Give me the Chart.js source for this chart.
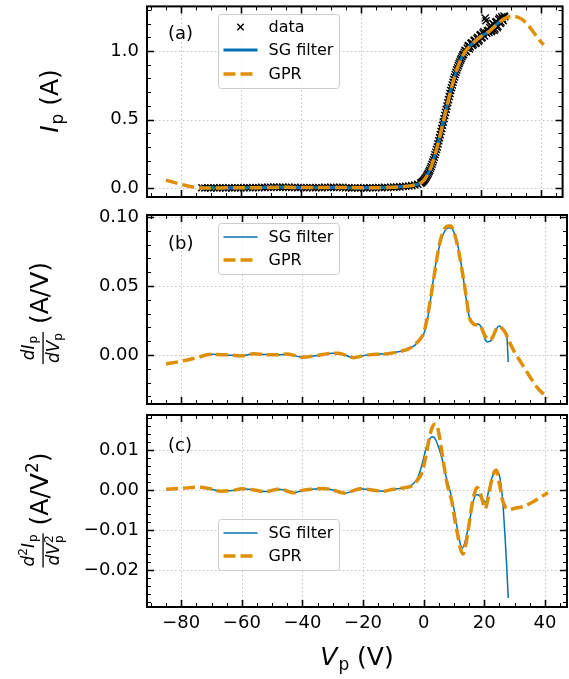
<!DOCTYPE html>
<html><head><meta charset="utf-8">
<script src="https://cdn.jsdelivr.net/npm/chart.js@4/dist/chart.umd.min.js"></script>
<style>
html,body{margin:0;padding:0;background:#fff;}
#wrap{position:relative;width:569px;height:679px;overflow:hidden;background:#fff}
canvas{position:absolute;left:0;top:0}
</style></head><body>
<div id="wrap">
<canvas id="ca" width="569" height="679"></canvas>
<canvas id="cb" width="569" height="679"></canvas>
<canvas id="cc" width="569" height="679"></canvas>
</div>
<script>
// ---------- tick labels ----------
const xTicks = [-80, -60, -40, -20, 0, 20, 40];
const yTicksA = [0, 0.5, 1.0];
const yTicksB = [0, 0.05, 0.10];
const yTicksC = [-0.02, -0.01, 0, 0.01];

// ---------- panel (a): probe current ----------
const measV = [-73,-72,-71,-70,-69,-68,-67,-66,-65,-64,
  -63,-62,-61,-60,-59,-58,-57,-56,-55,-54,
  -53,-52,-51,-50,-49,-48,-47,-46,-45,-44,
  -43,-42,-41,-40,-39,-38,-37,-36,-35,-34,
  -33,-32,-31,-30,-29,-28,-27,-26,-25,-24,
  -23,-22,-21,-20,-19,-18,-17,-16,-15,-14,
  -13,-12,-11,-10,-9,-8,-7,-6,-5,-4,
  -3,-2,-1,
  0,0.5,1,1.5,2,2.5,3,3.5,4,4.5,
  5,5.5,6,6.5,7,7.5,8,8.5,9,9.5,
  10,10.5,11,11.5,12,12.5,13,13.5,14,14.5,
  15,15.5,16,16.5,17,17.5,18,18.5,19,19.5,
  20,20.5,21,21.5,22,22.5,23,23.5,24,24.5,
  25,25.5,26,26.5,27,27.5,28];
const measI = [0.002,0.001,0.003,0.000,0.002,0.001,0.003,0.002,0.000,0.002,
  0.001,0.003,0.002,0.001,0.003,0.004,0.002,0.003,0.004,0.003,
  0.005,0.004,0.006,0.005,0.007,0.006,0.005,0.007,0.006,0.005,
  0.004,0.005,0.003,0.004,0.002,0.003,0.004,0.002,0.003,0.004,
  0.003,0.005,0.004,0.006,0.005,0.004,0.006,0.005,0.003,0.002,
  0.001,0.002,0.000,0.001,0.002,0.001,0.003,0.002,0.003,0.004,
  0.003,0.005,0.004,0.006,0.007,0.008,0.009,0.011,0.013,0.015,
  0.018,0.022,0.028,
  0.036,0.045,0.056,0.070,0.088,0.108,0.130,0.158,0.190,0.225,
  0.262,0.300,0.345,0.390,0.435,0.482,0.530,0.575,0.622,0.668,
  0.712,0.752,0.792,0.828,0.862,0.893,0.920,0.945,0.970,0.990,
  1.000,1.020,1.040,1.030,1.060,1.050,1.080,1.060,1.100,1.080,
  1.120,1.100,1.140,1.240,1.130,1.150,1.170,1.140,1.200,1.150,
  1.210,1.170,1.230,1.200,1.250,1.220,1.250];
// interleaved samples of the same sweep (between the points above)
const measV2 = [0.25,0.75,1.25,1.75,2.25,2.75,3.25,3.75,4.25,4.75,
  5.25,5.75,6.25,6.75,7.25,7.75,8.25,8.75,9.25,9.75,
  10.25,10.75,11.25,11.75,12.25,12.75,13.25,13.75,14.25,14.75,
  15.25,15.75,16.25,16.75,17.25,17.75,18.25,18.75,19.25,19.75,
  20.25,20.75,21.25,21.75,22.25,22.75,23.25,23.75,24.25,24.75,
  25.25,25.75,26.25,26.75,27.25,27.75];
const measI2 = [0.040,0.050,0.063,0.079,0.098,0.119,0.144,0.174,0.207,0.243,
  0.281,0.322,0.367,0.412,0.458,0.506,0.552,0.598,0.645,0.690,
  0.732,0.772,0.810,0.845,0.878,0.907,0.933,0.958,0.975,1.005,
  0.995,1.035,1.015,1.055,1.040,1.075,1.055,1.090,1.070,1.115,
  1.095,1.130,1.110,1.220,1.145,1.135,1.185,1.150,1.195,1.160,
  1.215,1.180,1.240,1.210,1.235,1.255];
const sgAV = [-73,-70,-67,-64,-61,-58,-55,-52,-49,-46,-43,-40,-37,-34,-31,-28,-25,-22,-19,-16,
  -13,-10,-8,-6,-4,-2,-1,0,1,2,3,4,5,6,7,8,9,10,11,12,13,14,15,16,17,18,19,20,21,22,
  23,24,25,26,27,28];
const sgAI = [0.002,0.002,0.002,0.002,0.003,0.003,0.004,0.005,0.006,0.006,
  0.005,0.004,0.004,0.004,0.005,0.005,0.004,0.002,0.002,0.003,
  0.004,0.006,0.008,0.011,0.015,0.022,0.028,0.037,0.056,0.088,
  0.13,0.19,0.262,0.345,0.435,0.53,0.622,0.712,0.792,0.862,
  0.92,0.968,1.0,1.028,1.05,1.07,1.09,1.105,1.12,1.132,
  1.148,1.168,1.188,1.208,1.222,1.235];
const gprAV = [-85,-82,-79,-76,-73,-70,-65,-60,-55,-50,-45,-40,-35,-30,-25,-20,-15,-10,-6,-3,
  -1,0,1,2,3,4,5,6,7,8,9,10,11,12,13,14,15,16,17,18,19,20,21,22,23,24,25,26,27,28,
  29,30,31,32,33,34,35,36,37,38,39,40,41];
const gprAI = [0.058,0.040,0.022,0.008,0.001,0.001,0.002,0.002,0.003,0.004,
  0.006,0.004,0.004,0.004,0.005,0.002,0.002,0.005,0.010,0.018,
  0.029,0.037,0.056,0.088,0.13,0.19,0.262,0.345,0.435,0.53,
  0.622,0.712,0.792,0.862,0.92,0.966,1.0,1.025,1.048,1.068,
  1.088,1.104,1.118,1.13,1.145,1.165,1.186,1.206,1.222,1.236,
  1.246,1.252,1.253,1.249,1.24,1.226,1.207,1.183,1.155,1.125,
  1.095,1.068,1.045];

// ---------- panel (b): first derivative ----------
const sgBV = [-73,-70,-65,-60,-56,-52,-48,-45,-40,-35,-30,-28,-23,-20,-16,-12,-8,-5,-3,-1,
  0,1,2,3,4,5,6,7,8,9,10,11,12,13,14,15,16,17,18,19,20,21,22,23,24,25,26,27,27.4,27.9];
const sgBD = [-0.0002,0.0005,0.0001,-0.0006,0.001,0.0003,0.0002,0.0007,-0.0016,-0.0003,
  0.0013,0.0012,-0.0019,-0.0005,0.0005,0.0009,0.0025,0.0045,0.007,0.0115,
  0.015,0.023,0.036,0.052,0.066,0.077,0.085,0.09,0.092,0.092,
  0.089,0.082,0.071,0.057,0.041,0.028,0.023,0.022,0.0225,0.02,
  0.013,0.0095,0.010,0.014,0.019,0.021,0.019,0.0165,0.015,-0.005];
const gprBV = [-85,-80,-75,-70,-65,-60,-56,-52,-48,-45,-40,-35,-30,-28,-23,-20,-16,-12,-8,-5,
  -3,-1,0,1,2,3,4,5,6,7,8,9,10,11,12,13,14,15,16,17,18,19,20,21,22,23,24,25,26,27,
  28,30,32,34,36,38,40,41];
const gprBD = [-0.0065,-0.0045,-0.002,0.0005,0.0002,-0.0006,0.001,0.0003,0.0002,0.0007,
  -0.0016,-0.0003,0.0013,0.0012,-0.0019,-0.0005,0.0005,0.0009,0.0025,0.0045,
  0.0075,0.012,0.016,0.025,0.037,0.051,0.065,0.078,0.087,0.092,
  0.0935,0.0935,0.089,0.081,0.07,0.057,0.043,0.028,0.0235,0.022,
  0.022,0.02,0.015,0.012,0.011,0.014,0.019,0.0205,0.019,0.016,
  0.011,0.002,-0.005,-0.012,-0.019,-0.025,-0.029,-0.031];

// ---------- panel (c): second derivative ----------
const sgCV = [-73,-71,-67,-63,-60,-56,-52,-48,-46,-43,-40,-37,-33,-30,-26,-23,-21,-17,-13.5,-10,
  -6,-4,-2,-0.5,1,2,3.1,4,5,6,7.5,9.2,10.3,11.3,12.2,12.8,13.8,15.2,16.3,17.4,
  18.5,19.5,20.5,21.5,22.5,23.3,24,25.1,26,26.8,27.4,27.9];
const sgCD = [0.0005,0.0004,-0.0003,-0.0001,0.0003,0.0,-0.0004,0.0002,0.0,-0.0007,
  -0.0001,0.0002,0.0004,0.0,-0.0008,-0.0001,0.0003,0.0,-0.0003,0.0002,
  0.0006,0.0012,0.003,0.0065,0.011,0.0128,0.0133,0.0125,0.0105,0.008,
  0.003,-0.0017,-0.006,-0.0105,-0.0138,-0.0145,-0.0125,-0.0075,-0.003,-0.0012,
  -0.0015,-0.0025,-0.003,0.0,0.003,0.0042,0.0048,0.0033,-0.002,-0.011,
  -0.019,-0.027];
const gprCV = [-85,-80,-74,-71,-67,-63,-60,-56,-52,-48,-46,-43,-40,-37,-33,-30,-26,-23,-21,-17,
  -13.5,-10,-6,-4,-2,-0.5,1,2,3,3.9,4.8,5.6,6.4,7.5,8.5,9.2,10.3,11.3,12.2,13,
  13.8,15,16,17,17.6,18.5,19.5,20.3,21.3,22.3,23.3,24,25,26,27,28.4,30,33,36,39,41];
const gprCD = [0.0002,0.0004,0.0007,0.0004,-0.0003,-0.0001,0.0003,0.0,-0.0004,0.0002,
  0.0,-0.0007,-0.0001,0.0002,0.0004,0.0,-0.0008,-0.0001,0.0003,0.0,
  -0.0003,0.0002,0.0006,0.001,0.0025,0.0045,0.0095,0.0135,0.016,0.0165,
  0.015,0.0115,0.0075,0.0025,-0.0008,-0.0025,-0.0075,-0.0115,-0.0148,-0.016,
  -0.014,-0.0085,-0.0035,-0.0003,0.0006,-0.0002,-0.003,-0.0047,-0.002,0.002,
  0.0045,0.005,0.0015,-0.0025,-0.0043,-0.0049,-0.0046,-0.0041,-0.003,-0.0016,
  -0.0007];

// ---------- styling ----------
const BLUE = '#0173B2', ORANGE = '#DE8F05';
const FAM = '"DejaVu Sans"';
const MAIN = `25px ${FAM}`, MAINI = `italic 25px ${FAM}`;
const FR = `17px ${FAM}`, FRI = `italic 17px ${FAM}`, SUB = `12px ${FAM}`;
const X_MIN = -91.3, X_MAX = 47.3;
const DASH = [12, 5];
const TICK_FONT = 18;

function pts(xs, ys){ return xs.map((v,i)=>({x:v, y:ys[i]})); }
function fmt(v, d){ const s = Math.abs(v) < 1e-12 ? (0).toFixed(d) : v.toFixed(d); return s.replace('-', '\u2212'); }

function runsW(ctx, runs){ let w=0; for(const r of runs){ ctx.font=r.f; if(!r.noAdv) w += ctx.measureText(r.t).width + (r.sp||0);} return w; }
function drawRuns(ctx, runs, x, y){ for(const r of runs){ ctx.font=r.f; ctx.fillText(r.t, x, y+(r.dy||0)); if(!r.noAdv) x += ctx.measureText(r.t).width + (r.sp||0);} }
function itemW(ctx, it){ return it.runs ? runsW(ctx, it.runs) : Math.max(runsW(ctx,it.num), runsW(ctx,it.den)) + 2*(it.pad||1); }
function drawItem(ctx, it, x, y){
  if (it.runs){ drawRuns(ctx, it.runs, x, y); return; }
  const W = itemW(ctx, it), nw = runsW(ctx, it.num), dw = runsW(ctx, it.den);
  drawRuns(ctx, it.num, x + (W-nw)/2, y - 14);
  drawRuns(ctx, it.den, x + (W-dw)/2, y + 11);
  ctx.fillRect(x, y - 5.6, W, 1.3);
}
function drawComposite(ctx, items, cx, by, rotate){
  ctx.save();
  ctx.translate(cx, by);
  if (rotate) ctx.rotate(-Math.PI/2);
  ctx.fillStyle = '#000'; ctx.textAlign = 'left'; ctx.textBaseline = 'alphabetic';
  const W = items.reduce((s,it)=>s+itemW(ctx,it), 0);
  let x = -W/2;
  for (const it of items){ drawItem(ctx, it, x, 0); x += itemW(ctx, it); }
  ctx.restore();
}

function drawLegend(ctx, L){
  ctx.save();
  const r = 3;
  ctx.beginPath();
  ctx.moveTo(L.x+r, L.y); ctx.lineTo(L.x+L.w-r, L.y); ctx.arcTo(L.x+L.w, L.y, L.x+L.w, L.y+r, r);
  ctx.lineTo(L.x+L.w, L.y+L.h-r); ctx.arcTo(L.x+L.w, L.y+L.h, L.x+L.w-r, L.y+L.h, r);
  ctx.lineTo(L.x+r, L.y+L.h); ctx.arcTo(L.x, L.y+L.h, L.x, L.y+L.h-r, r);
  ctx.lineTo(L.x, L.y+r); ctx.arcTo(L.x, L.y, L.x+r, L.y, r); ctx.closePath();
  ctx.fillStyle = 'rgba(255,255,255,0.8)'; ctx.fill();
  ctx.strokeStyle = '#cccccc'; ctx.lineWidth = 1; ctx.stroke();
  for (const row of L.rows){
    const x0 = L.x + 5, x1 = L.x + 39, cy = row.y;
    if (row.kind === 'marker'){
      const c = (x0+x1)/2, s = 3.2;
      ctx.strokeStyle = '#000'; ctx.lineWidth = 1.4; ctx.setLineDash([]);
      ctx.beginPath(); ctx.moveTo(c-s, cy-s); ctx.lineTo(c+s, cy+s); ctx.moveTo(c-s, cy+s); ctx.lineTo(c+s, cy-s); ctx.stroke();
    } else {
      ctx.strokeStyle = row.color; ctx.lineWidth = row.width; ctx.lineCap = 'butt';
      ctx.setLineDash(row.dash || []);
      ctx.beginPath(); ctx.moveTo(x0, cy); ctx.lineTo(x1, cy); ctx.stroke();
      ctx.setLineDash([]);
    }
    ctx.fillStyle = '#000'; ctx.font = `16px ${FAM}`; ctx.textBaseline = 'middle'; ctx.textAlign = 'left';
    ctx.fillText(row.label, L.x + 50, cy + 1);
  }
  ctx.restore();
}

function decor(o){
  return {
    id: 'decor' + o.name,
    beforeDatasetsDraw(chart){
      const {ctx, chartArea:a, scales:{x, y}} = chart;
      ctx.save();
      ctx.beginPath(); ctx.rect(a.left, a.top, a.right-a.left, a.bottom-a.top); ctx.clip();
      ctx.strokeStyle = '#c4c4c4'; ctx.lineWidth = 1; ctx.setLineDash([1.5, 2.5]);
      for (const v of xTicks){ const p = Math.round(x.getPixelForValue(v)) + 0.5; ctx.beginPath(); ctx.moveTo(p, a.top); ctx.lineTo(p, a.bottom); ctx.stroke(); }
      for (const v of o.yTicks){ const p = Math.round(y.getPixelForValue(v)) + 0.5; ctx.beginPath(); ctx.moveTo(a.left, p); ctx.lineTo(a.right, p); ctx.stroke(); }
      ctx.restore();
    },
    afterDraw(chart){
      const {ctx, chartArea:a, scales:{x, y}} = chart;
      ctx.save();
      ctx.strokeStyle = '#000'; ctx.setLineDash([]);
      ctx.lineWidth = 1;
      ctx.beginPath();
      for (let v = -90; v <= 45; v += 5){
        if (v % 20 === 0) continue;
        const p = Math.round(x.getPixelForValue(v)) + 0.5;
        if (p < a.left || p > a.right) continue;
        ctx.moveTo(p, a.bottom); ctx.lineTo(p, a.bottom - 4);
        ctx.moveTo(p, a.top); ctx.lineTo(p, a.top + 4);
      }
      for (let k = Math.ceil(o.yMin / o.yMinor); k * o.yMinor <= o.yMax; k++){
        const v = k * o.yMinor;
        if (o.yTicks.some(t => Math.abs(t - v) < 1e-9)) continue;
        const p = Math.round(y.getPixelForValue(v)) + 0.5;
        ctx.moveTo(a.left, p); ctx.lineTo(a.left + 4, p);
        ctx.moveTo(a.right, p); ctx.lineTo(a.right - 4, p);
      }
      ctx.stroke();
      ctx.lineWidth = 1.6;
      ctx.beginPath();
      for (const v of xTicks){
        const p = Math.round(x.getPixelForValue(v)) + 0.5;
        ctx.moveTo(p, a.bottom); ctx.lineTo(p, a.bottom - 7);
        ctx.moveTo(p, a.top); ctx.lineTo(p, a.top + 7);
      }
      for (const v of o.yTicks){
        const p = Math.round(y.getPixelForValue(v)) + 0.5;
        ctx.moveTo(a.left, p); ctx.lineTo(a.left + 7, p);
        ctx.moveTo(a.right, p); ctx.lineTo(a.right - 7, p);
      }
      ctx.stroke();
      ctx.lineWidth = 2;
      ctx.strokeRect(a.left, a.top, a.right - a.left, a.bottom - a.top);
      ctx.fillStyle = '#000'; ctx.font = `18px ${FAM}`; ctx.textBaseline = 'middle'; ctx.textAlign = 'left';
      ctx.fillText(o.tag, 168, o.tagY);
      ctx.restore();
      drawLegend(ctx, o.legend);
      drawComposite(ctx, o.title, o.titleX, o.titleY, true);
      if (o.xTitle) drawComposite(ctx, o.xTitle, (a.left + a.right)/2, 665, false);
    }
  };
}

function makeChart(id, o){
  return new Chart(document.getElementById(id), {
    type: 'line',
    data: { datasets: o.datasets },
    options: {
      responsive: false, animation: false, devicePixelRatio: 1,
      layout: { padding: { left: 0, right: 2, top: o.top, bottom: o.bottom } },
      plugins: { legend: { display: false }, tooltip: { enabled: false } },
      elements: { point: { radius: 0 }, line: { fill: false } },
      scales: {
        x: {
          type: 'linear', min: X_MIN, max: X_MAX, display: o.showX,
          grid: { display: false, drawTicks: false }, border: { display: false },
          ticks: { autoSkip: false, maxRotation: 0, padding: 6, color: '#000', font: { family: 'DejaVu Sans', size: TICK_FONT }, callback: v => fmt(v, 0) },
          afterBuildTicks: s => { s.ticks = xTicks.map(v => ({ value: v })); },
          afterFit: s => { s.height = o.xH; s.paddingLeft = 0; s.paddingRight = 0; }
        },
        y: {
          type: 'linear', min: o.yMin, max: o.yMax,
          grid: { display: false, drawTicks: false }, border: { display: false },
          ticks: { padding: 8, color: '#000', font: { family: 'DejaVu Sans', size: TICK_FONT }, callback: v => fmt(v, o.dec) },
          afterBuildTicks: s => { s.ticks = o.yTicks.map(v => ({ value: v })); },
          afterFit: s => { s.width = 147; s.paddingTop = 0; s.paddingBottom = 0; }
        }
      }
    },
    plugins: [decor(o)]
  });
}

const sub = (t, dy) => ({ t, f: SUB, dy: dy === undefined ? 3 : dy });
const markerStyle = { showLine: false, pointStyle: 'crossRot', pointRadius: 5, pointBorderColor: '#000', pointBorderWidth: 1.4, borderColor: '#000', order: 3 };

makeChart('ca', {
  name: 'a', top: 5, bottom: 679 - 197, showX: false, xH: 0,
  yMin: -0.065, yMax: 1.325, yTicks: yTicksA, yMinor: 0.1, dec: 1,
  tag: '(a)', tagY: 34,
  legend: { x: 218.5, y: 14.5, w: 121, h: 74, rows: [
    { kind: 'marker', label: 'data', y: 27 },
    { kind: 'line', label: 'SG filter', color: BLUE, width: 3, y: 50 },
    { kind: 'line', label: 'GPR', color: ORANGE, width: 3.5, dash: DASH, y: 74 } ] },
  title: [ { runs: [ { t: 'I', f: MAINI, sp: 1 }, { t: 'p', f: FR, dy: 5 }, { t: ' (A)', f: MAIN } ] } ],
  titleX: 58, titleY: 101,
  datasets: [
    Object.assign({ label: 'data', data: pts(measV, measI) }, markerStyle),
    Object.assign({ label: 'data', data: pts(measV2, measI2) }, markerStyle),
    { label: 'SG filter', data: pts(sgAV, sgAI), borderColor: BLUE, borderWidth: 3, pointRadius: 0, cubicInterpolationMode: 'monotone', order: 2 },
    { label: 'GPR', data: pts(gprAV, gprAI), borderColor: ORANGE, borderWidth: 3.5, borderDash: DASH, pointRadius: 0, cubicInterpolationMode: 'monotone', order: 1 }
  ]
});

makeChart('cb', {
  name: 'b', top: 215, bottom: 679 - 404, showX: false, xH: 0,
  yMin: -0.0355, yMax: 0.1015, yTicks: yTicksB, yMinor: 0.01, dec: 2,
  tag: '(b)', tagY: 244,
  legend: { x: 218.5, y: 223.5, w: 121, h: 51, rows: [
    { kind: 'line', label: 'SG filter', color: BLUE, width: 1.5, y: 237 },
    { kind: 'line', label: 'GPR', color: ORANGE, width: 3.5, dash: DASH, y: 260 } ] },
  title: [
    { num: [ { t: 'd', f: FRI }, { t: 'I', f: FRI, sp: 1 }, sub('p') ], den: [ { t: 'd', f: FRI }, { t: 'V', f: FRI }, sub('p') ], pad: 1 },
    { runs: [ { t: ' (A/V)', f: MAIN } ] } ],
  titleX: 48, titleY: 313,
  datasets: [
    { label: 'SG filter', data: pts(sgBV, sgBD), borderColor: BLUE, borderWidth: 1.5, pointRadius: 0, cubicInterpolationMode: 'monotone', order: 2 },
    { label: 'GPR', data: pts(gprBV, gprBD), borderColor: ORANGE, borderWidth: 3.5, borderDash: DASH, pointRadius: 0, cubicInterpolationMode: 'monotone', order: 1 }
  ]
});

makeChart('cc', {
  name: 'c', top: 415, bottom: 0, showX: true, xH: 72,
  yMin: -0.02925, yMax: 0.01875, yTicks: yTicksC, yMinor: 0.002, dec: 2,
  tag: '(c)', tagY: 446,
  legend: { x: 218.5, y: 519.5, w: 121, h: 51, rows: [
    { kind: 'line', label: 'SG filter', color: BLUE, width: 1.5, y: 533 },
    { kind: 'line', label: 'GPR', color: ORANGE, width: 3.5, dash: DASH, y: 556 } ] },
  title: [
    { num: [ { t: 'd', f: FRI }, sub('2', -7), { t: 'I', f: FRI, sp: 1 }, sub('p') ],
      den: [ { t: 'd', f: FRI }, { t: 'V', f: FRI }, { t: 'p', f: SUB, dy: 4, noAdv: true }, sub('2', -6) ], pad: 1 },
    { runs: [ { t: ' (A/V', f: MAIN }, { t: '2', f: FR, dy: -10 }, { t: ')', f: MAIN } ] } ],
  titleX: 48, titleY: 510,
  xTitle: [ { runs: [ { t: 'V', f: MAINI, sp: 1 }, { t: 'p', f: FR, dy: 5 }, { t: ' (V)', f: MAIN } ] } ],
  datasets: [
    { label: 'SG filter', data: pts(sgCV, sgCD), borderColor: BLUE, borderWidth: 1.5, pointRadius: 0, cubicInterpolationMode: 'monotone', order: 2 },
    { label: 'GPR', data: pts(gprCV, gprCD), borderColor: ORANGE, borderWidth: 3.5, borderDash: DASH, pointRadius: 0, cubicInterpolationMode: 'monotone', order: 1 }
  ]
});
</script>
</body></html>
